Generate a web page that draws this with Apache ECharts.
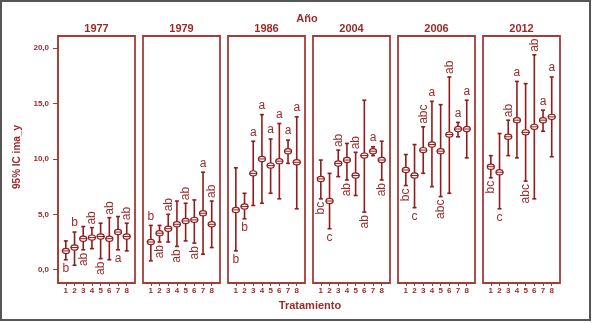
<!DOCTYPE html>
<html>
<head>
<meta charset="utf-8">
<script src="https://cdn.jsdelivr.net/npm/echarts@6/dist/echarts.min.js"></script>
<style>
  html, body { margin: 0; padding: 0; background: #fff; }
  #chart { width: 593px; height: 323px; }
</style>
</head>
<body>
<div id="chart"></div>
<script>
var years = ['1977', '1979', '1986', '2004', '2006', '2012'];
var tratamientos = [1, 2, 3, 4, 5, 6, 7, 8];
var yTicks = [0, 5, 10, 15, 20];

// media e intervalo de confianza 95% por tratamiento
var media1977 = [1.7, 2.0, 2.8, 2.9, 3.0, 2.8, 3.4, 3.0];
var inf1977   = [0.9, 0.4, 1.8, 1.9, 1.0, 0.9, 1.8, 1.7];
var sup1977   = [2.6, 3.4, 3.9, 3.8, 4.2, 4.7, 4.8, 4.2];

var media1979 = [2.5, 3.3, 3.7, 4.1, 4.4, 4.5, 5.1, 4.1];
var inf1979   = [0.8, 2.5, 2.5, 2.1, 2.6, 2.4, 1.4, 2.0];
var sup1979   = [4.0, 4.0, 5.0, 6.2, 6.0, 6.3, 8.8, 6.2];

var media1986 = [5.4, 5.7, 8.7, 10.0, 9.4, 9.8, 10.7, 9.7];
var inf1986   = [1.7, 4.6, 5.8, 6.0, 6.9, 6.4, 9.6, 5.5];
var sup1986   = [9.2, 6.9, 11.6, 14.0, 11.8, 13.2, 11.7, 13.8];

var media2004 = [8.2, 6.2, 9.6, 9.9, 8.5, 10.3, 10.7, 9.9];
var inf2004   = [6.4, 3.7, 8.4, 8.1, 6.7, 5.2, 10.3, 8.1];
var sup2004   = [9.9, 8.7, 10.8, 11.4, 10.6, 15.3, 11.1, 11.6];

var media2006 = [9.0, 8.5, 10.8, 11.3, 10.7, 12.2, 12.7, 12.7];
var inf2006   = [7.6, 5.6, 8.7, 7.5, 6.6, 6.9, 12.0, 10.1];
var sup2006   = [10.4, 11.3, 12.9, 15.2, 14.9, 17.4, 13.3, 15.3];

var media2012 = [9.3, 8.8, 12.0, 13.5, 12.4, 12.9, 13.5, 13.8];
var inf2012   = [8.3, 5.5, 10.3, 10.1, 8.0, 6.4, 12.5, 10.2];
var sup2012   = [10.3, 12.3, 13.5, 17.0, 16.8, 19.4, 14.4, 17.4];

// letras de comparación y lado en que aparecen
var letras1977 = ['b', 'b', 'ab', 'ab', 'ab', 'ab', 'a', 'ab'];
var lado1977   = ['d', 'u', 'd', 'u', 'd', 'u', 'd', 'u'];
var letras1979 = ['b', 'ab', 'ab', 'ab', 'ab', 'ab', 'a', 'ab'];
var lado1979   = ['u', 'd', 'u', 'd', 'u', 'd', 'u', 'u'];
var letras1986 = ['b', 'b', 'a', 'a', 'a', 'a', 'a', 'a'];
var lado1986   = ['d', 'd', 'u', 'u', 'u', 'u', 'u', 'u'];
var letras2004 = ['bc', 'c', 'ab', 'ab', 'ab', 'ab', 'a', 'ab'];
var lado2004   = ['d', 'd', 'u', 'd', 'u', 'd', 'u', 'd'];
var letras2006 = ['bc', 'c', 'abc', 'a', 'abc', 'ab', 'a', 'a'];
var lado2006   = ['d', 'd', 'u', 'u', 'd', 'u', 'u', 'u'];
var letras2012 = ['bc', 'c', 'ab', 'a', 'abc', 'ab', 'a', 'a'];
var lado2012   = ['d', 'd', 'u', 'u', 'd', 'u', 'u', 'u'];

var medias = [media1977, media1979, media1986, media2004, media2006, media2012];
var infs = [inf1977, inf1979, inf1986, inf2004, inf2006, inf2012];
var sups = [sup1977, sup1979, sup1986, sup2004, sup2006, sup2012];
var letras = [letras1977, letras1979, letras1986, letras2004, letras2006, letras2012];
var lados = [lado1977, lado1979, lado1986, lado2004, lado2006, lado2012];

var frameColor = '#a53b3b';
var textColor = '#9b2a2a';
var barColor = '#8f1d1d';
var font = 'Liberation Sans';

var chart = echarts.init(document.getElementById('chart'));

var grids = [], xAxes = [], yAxes = [], series = [], titles = [];
years.forEach(function (yr, i) {
  var left = 58 + i * 85;
  grids.push({
    left: left, top: 36, width: 77, height: 247,
    show: true, borderColor: frameColor, borderWidth: 1.8, backgroundColor: 'transparent'
  });
  titles.push({
    text: yr, left: left + 38.5, top: 23, padding: 0, textAlign: 'center',
    textStyle: { fontSize: 11, fontWeight: 'bold', color: textColor, fontFamily: font }
  });
  xAxes.push({
    type: 'value', gridIndex: i, min: 0.1, max: 8.95,
    axisLine: { show: false, onZero: false },
    splitLine: { show: false },
    axisTick: { show: true, customValues: tratamientos, length: 3, lineStyle: { color: frameColor } },
    axisLabel: {
      customValues: tratamientos, margin: 4, fontSize: 8, fontWeight: 'bold',
      color: textColor, fontFamily: font
    }
  });
  yAxes.push({
    type: 'value', gridIndex: i, min: -1.2, max: 21.1,
    splitLine: { show: false },
    axisLine: { show: i === 0, onZero: false, lineStyle: { color: frameColor, width: 1.5 } },
    axisTick: { show: i === 0, customValues: yTicks, length: 5, lineStyle: { color: frameColor } },
    axisLabel: {
      show: i === 0, customValues: yTicks, margin: 9, fontSize: 8, fontWeight: 'bold',
      color: textColor, fontFamily: font,
      formatter: function (v) { return v.toFixed(1).replace('.', ','); }
    }
  });
  var data = tratamientos.map(function (t, j) {
    return [t, medias[i][j], infs[i][j], sups[i][j]];
  });
  series.push({
    type: 'custom', xAxisIndex: i, yAxisIndex: i,
    data: data,
    encode: { x: 0, y: [1, 2, 3] },
    renderItem: function (params, api) {
      var x = api.value(0);
      var pm = api.coord([x, api.value(1)]);
      var pl = api.coord([x, api.value(2)]);
      var ph = api.coord([x, api.value(3)]);
      var letra = letras[i][params.dataIndex];
      var up = lados[i][params.dataIndex] === 'u';
      var rot = letra.length > 1;
      var anchorY = up ? ph[1] - 3 : pl[1] + 3;
      var txt;
      if (rot) {
        txt = {
          type: 'text', x: pm[0], y: anchorY, rotation: Math.PI / 2,
          style: {
            text: letra, x: 0, y: 0, align: up ? 'left' : 'right', verticalAlign: 'middle',
            fill: textColor, fontSize: 12, fontFamily: font
          }
        };
      } else {
        txt = {
          type: 'text', x: pm[0], y: anchorY,
          style: {
            text: letra, x: 0, y: 0, align: 'center', verticalAlign: up ? 'bottom' : 'top',
            fill: textColor, fontSize: 12, fontFamily: font
          }
        };
      }
      var ls = { stroke: barColor, lineWidth: 1.6 };
      return {
        type: 'group',
        children: [
          { type: 'line', shape: { x1: pm[0], y1: pl[1], x2: pm[0], y2: ph[1] }, style: ls },
          { type: 'line', shape: { x1: pm[0] - 2, y1: pl[1], x2: pm[0] + 2, y2: pl[1] }, style: ls },
          { type: 'line', shape: { x1: pm[0] - 2, y1: ph[1], x2: pm[0] + 2, y2: ph[1] }, style: ls },
          { type: 'ellipse', shape: { cx: pm[0], cy: pm[1], rx: 3.5, ry: 2.6 },
            style: { fill: '#fff', stroke: barColor, lineWidth: 1.2 } },
          { type: 'line', shape: { x1: pm[0] - 4, y1: pm[1], x2: pm[0] + 4, y2: pm[1] },
            style: { stroke: barColor, lineWidth: 1 } },
          txt
        ]
      };
    }
  });
});

titles.push({
  text: 'Año', left: 307, top: 13, padding: 0, textAlign: 'center',
  textStyle: { fontSize: 11, fontWeight: 'bold', color: textColor, fontFamily: font }
});

chart.setOption({
  animation: false,
  title: titles,
  grid: grids,
  xAxis: xAxes,
  yAxis: yAxes,
  series: series,
  graphic: [
    { type: 'rect', shape: { x: 1, y: 1, width: 589, height: 319 },
      style: { fill: 'none', stroke: '#555', lineWidth: 2 } },
    { type: 'text', x: 310, y: 306,
      style: { text: 'Tratamiento', align: 'center', verticalAlign: 'middle',
        fill: textColor, fontSize: 11, fontWeight: 'bold', fontFamily: font } },
    { type: 'text', x: 17, y: 157, rotation: Math.PI / 2,
      style: { text: '95% IC ima_y', align: 'center', verticalAlign: 'middle',
        fill: textColor, fontSize: 10, fontWeight: 'bold', fontFamily: font } }
  ]
});
</script>
</body>
</html>
